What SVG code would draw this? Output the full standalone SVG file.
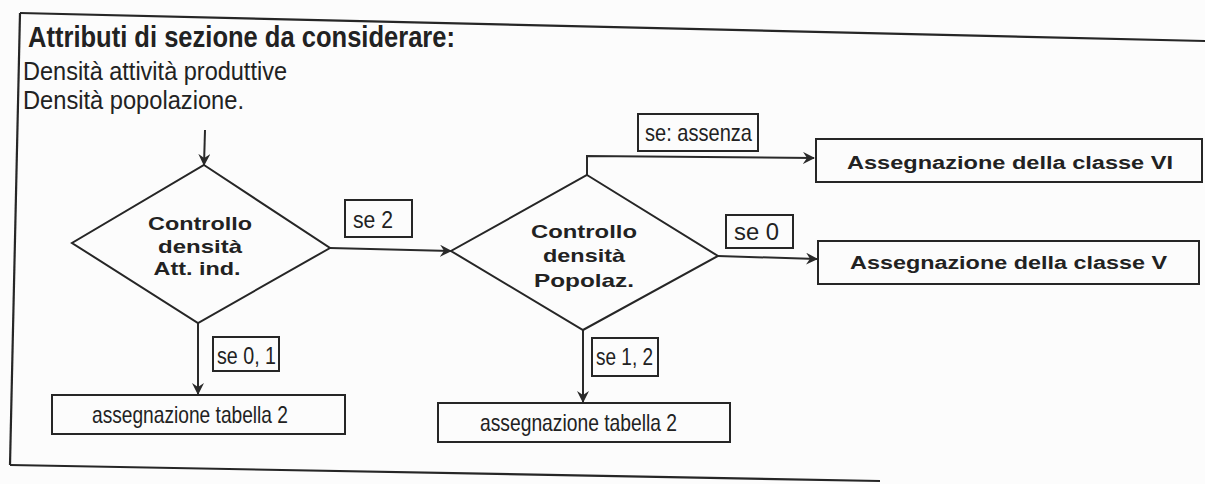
<svg xmlns="http://www.w3.org/2000/svg" width="1205" height="484" viewBox="0 0 1205 484">
<style>
.bg{fill:#fcfcfc}
.box{fill:none;stroke:#262626;stroke-width:2}
.shape{fill:none;stroke:#262626;stroke-width:2}
.frame{fill:none;stroke:#262626;stroke-width:2.2}
.conn{fill:none;stroke:#2a2a2a;stroke-width:2}
.t{font-family:"Liberation Sans",Arial,sans-serif;fill:#222}
.reg{font-size:26px}
.lab{font-size:24px}
.bold{font-size:19px;font-weight:bold}
.cls{font-size:18px;font-weight:bold}
.title{font-size:30px;font-weight:bold}
</style>
<defs>
<marker id="arr" viewBox="0 0 12 12" refX="11" refY="6" markerWidth="12" markerHeight="12" markerUnits="userSpaceOnUse" orient="auto">
<path d="M0,0 L12,6 L0,12 L4,6 Z" fill="#2a2a2a"/>
</marker>
</defs>
<rect class="bg" x="0" y="0" width="1205" height="484"/>
<g id="frame">
<path class="frame" d="M20,13 L1205,41"/>
<path class="frame" d="M20,13 L10,465"/>
<path class="frame" d="M10,465 L880,481"/>
</g>
<g id="header">
<text class="t title" x="28" y="47" textLength="427" lengthAdjust="spacingAndGlyphs">Attributi di sezione da considerare:</text>
<text class="t reg" x="23" y="80" textLength="264" lengthAdjust="spacingAndGlyphs">Densità attività produttive</text>
<text class="t reg" x="23" y="109" textLength="221" lengthAdjust="spacingAndGlyphs">Densità popolazione.</text>
</g>
<g id="connectors">
<path class="conn" d="M205,130 L204,165" marker-end="url(#arr)"/>
<path class="conn" d="M330,248 L451,251" marker-end="url(#arr)"/>
<path class="conn" d="M198,323 L198,394" marker-end="url(#arr)"/>
<path class="conn" d="M583,330 L583,402" marker-end="url(#arr)"/>
<path class="conn" d="M587,175 L587,156 L814,158" marker-end="url(#arr)"/>
<path class="conn" d="M718,256 L817,259" marker-end="url(#arr)"/>
</g>
<g id="decision1">
<path class="shape" d="M204,165 L330,248 L198,323 L72,243 Z"/>
<text class="t bold" x="200" y="230" text-anchor="middle" textLength="104" lengthAdjust="spacingAndGlyphs">Controllo</text>
<text class="t bold" x="200" y="253" text-anchor="middle" textLength="84" lengthAdjust="spacingAndGlyphs">densità</text>
<text class="t bold" x="197" y="275" text-anchor="middle" textLength="87" lengthAdjust="spacingAndGlyphs">Att. ind.</text>
</g>
<g id="label-se2">
<rect class="box" x="345" y="200" width="67" height="37"/>
<text class="t lab" x="353" y="228" textLength="40" lengthAdjust="spacingAndGlyphs">se 2</text>
</g>
<g id="label-se01">
<rect class="box" x="213" y="337" width="66" height="34"/>
<text class="t lab" x="217" y="364" textLength="59" lengthAdjust="spacingAndGlyphs">se 0, 1</text>
</g>
<g id="table1">
<rect class="box" x="52" y="395" width="293" height="39"/>
<text class="t lab" x="92" y="423" textLength="196" lengthAdjust="spacingAndGlyphs">assegnazione tabella 2</text>
</g>
<g id="decision2">
<path class="shape" d="M587,175 L718,256 L583,330 L451,251 Z"/>
<text class="t bold" x="584" y="238" text-anchor="middle" textLength="106" lengthAdjust="spacingAndGlyphs">Controllo</text>
<text class="t bold" x="584" y="262" text-anchor="middle" textLength="82" lengthAdjust="spacingAndGlyphs">densità</text>
<text class="t bold" x="584" y="287" text-anchor="middle" textLength="100" lengthAdjust="spacingAndGlyphs">Popolaz.</text>
</g>
<g id="label-assenza">
<rect class="box" x="638" y="114" width="120" height="37"/>
<text class="t lab" x="645" y="141" textLength="107" lengthAdjust="spacingAndGlyphs">se: assenza</text>
</g>
<g id="label-se0">
<rect class="box" x="726" y="215" width="67" height="33"/>
<text class="t lab" x="734" y="240" textLength="45" lengthAdjust="spacingAndGlyphs">se 0</text>
</g>
<g id="label-se12">
<rect class="box" x="592" y="338" width="66" height="38"/>
<text class="t lab" x="596" y="365" textLength="57" lengthAdjust="spacingAndGlyphs">se 1, 2</text>
</g>
<g id="table2">
<rect class="box" x="438" y="403" width="292" height="39"/>
<text class="t lab" x="480" y="431" textLength="197" lengthAdjust="spacingAndGlyphs">assegnazione tabella 2</text>
</g>
<g id="classVI">
<rect class="box" x="816" y="139" width="386" height="43"/>
<text class="t cls" x="847" y="169" textLength="326" lengthAdjust="spacingAndGlyphs">Assegnazione della classe VI</text>
</g>
<g id="classV">
<rect class="box" x="818" y="241" width="381" height="43"/>
<text class="t cls" x="850" y="269" textLength="317" lengthAdjust="spacingAndGlyphs">Assegnazione della classe V</text>
</g>
</svg>
